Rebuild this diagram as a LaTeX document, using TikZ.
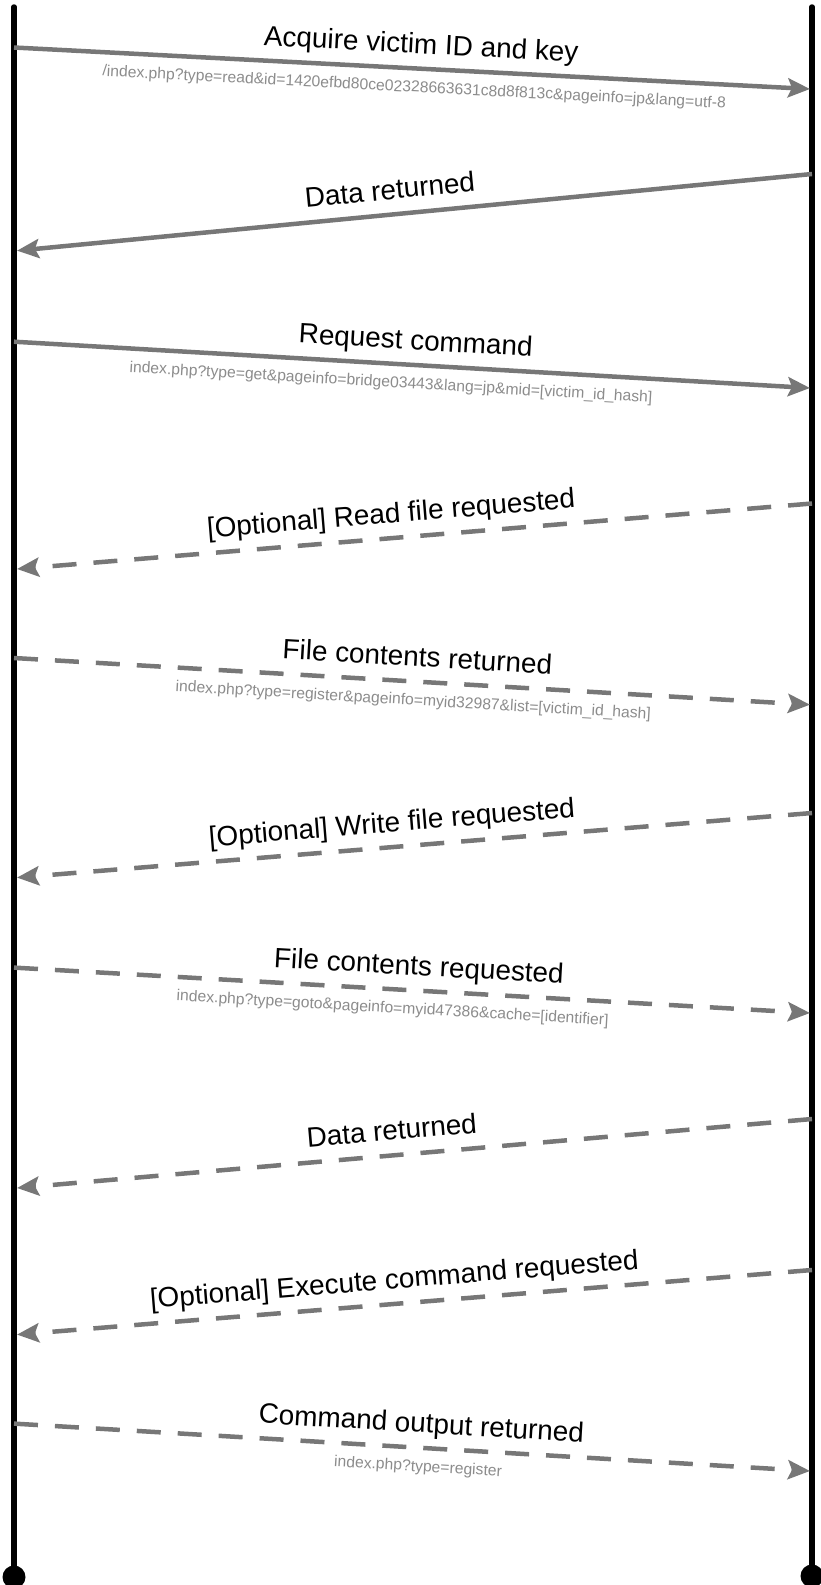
\documentclass[tikz,border=0pt]{standalone}
\usepackage{fontspec}
\setmainfont{Liberation Sans}
\usetikzlibrary{arrows.meta}
\definecolor{arrowgray}{HTML}{777777}
\definecolor{urlgray}{HTML}{8C8C8C}
\begin{document}
\begin{tikzpicture}[x=1pt,y=-1pt,
  msg/.style={draw=arrowgray, line width=4.5pt, -{Stealth[length=22pt,width=19pt,inset=4pt]}},
  dmsg/.style={msg, dash pattern=on 24pt off 17pt},
  lbl/.style={sloped, inner sep=0pt, text height=20pt, text depth=6pt, font=\fontsize{27.9}{30}\selectfont, above=7pt},
  url/.style={sloped, inner sep=0pt, text height=12pt, text depth=3.5pt, font=\fontsize{15.7}{18}\selectfont, text=urlgray, below=9.5pt},
  life/.style={line width=5.5pt, black, line cap=round},
  dot/.style={circle, fill=black, inner sep=0pt, minimum size=23pt}]
\useasboundingbox (0,0) rectangle (820,1585);
% lifelines
\coordinate (Ltop) at (14,7);
\coordinate (Rtop) at (812,7);
\node[dot] (Ldot) at (14,1577) {};
\node[dot] (Rdot) at (812,1576) {};
\draw[life] (Ltop) -- (Ldot.center);
\draw[life] (Rtop) -- (Rdot.center);
% message end points
\coordinate (s1) at (14,47.5);   \coordinate (e1) at (810,89);
\coordinate (s2) at (812,174);   \coordinate (e2) at (17,250.7);
\coordinate (s3) at (14,341.7);  \coordinate (e3) at (810,388);
\coordinate (s4) at (812,503.5); \coordinate (e4) at (17,569);
\coordinate (s5) at (14,658);    \coordinate (e5) at (810,704.7);
\coordinate (s6) at (812,813);   \coordinate (e6) at (17,877.6);
\coordinate (s7) at (14,967.6);  \coordinate (e7) at (810,1013);
\coordinate (s8) at (812,1119);  \coordinate (e8) at (17,1188);
\coordinate (s9) at (812,1270);  \coordinate (e9) at (17,1334.6);
\coordinate (s10) at (14,1423.6); \coordinate (e10) at (810,1471);
% messages
\draw[msg] (s1) -- node[lbl,pos=0.51] (m1) {Acquire victim ID and key}
  node[url,pos=0.504] (u1) {/index.php?type=read\&id=1420efbd80ce02328663631c8d8f813c\&pageinfo=jp\&lang=utf-8} (e1);
\draw[msg] (s2) -- node[lbl,pos=0.528] (m2) {Data returned} (e2);
\draw[msg] (s3) -- node[lbl,pos=0.503] (m3) {Request command}
  node[url,pos=0.475] (u3) {index.php?type=get\&pageinfo=bridge03443\&lang=jp\&mid=[victim\_id\_hash]} (e3);
\draw[dmsg] (s4) -- node[lbl,pos=0.527] (m4) {[Optional] Read file requested} (e4);
\draw[dmsg] (s5) -- node[lbl,pos=0.505] (m5) {File contents returned}
  node[url,pos=0.503] (u5) {index.php?type=register\&pageinfo=myid32987\&list=[victim\_id\_hash]} (e5);
\draw[dmsg] (s6) -- node[lbl,pos=0.526] (m6) {[Optional] Write file requested} (e6);
\draw[dmsg] (s7) -- node[lbl,pos=0.507] (m7) {File contents requested}
  node[url,pos=0.477] (u7) {index.php?type=goto\&pageinfo=myid47386\&cache=[identifier]} (e7);
\draw[dmsg] (s8) -- node[lbl,pos=0.526] (m8) {Data returned} (e8);
\draw[dmsg] (s9) -- node[lbl,pos=0.523] (m9) {[Optional] Execute command requested} (e9);
\draw[dmsg] (s10) -- node[lbl,pos=0.51] (m10) {Command output returned}
  node[url,pos=0.509] (u10) {index.php?type=register} (e10);
\end{tikzpicture}
\end{document}
